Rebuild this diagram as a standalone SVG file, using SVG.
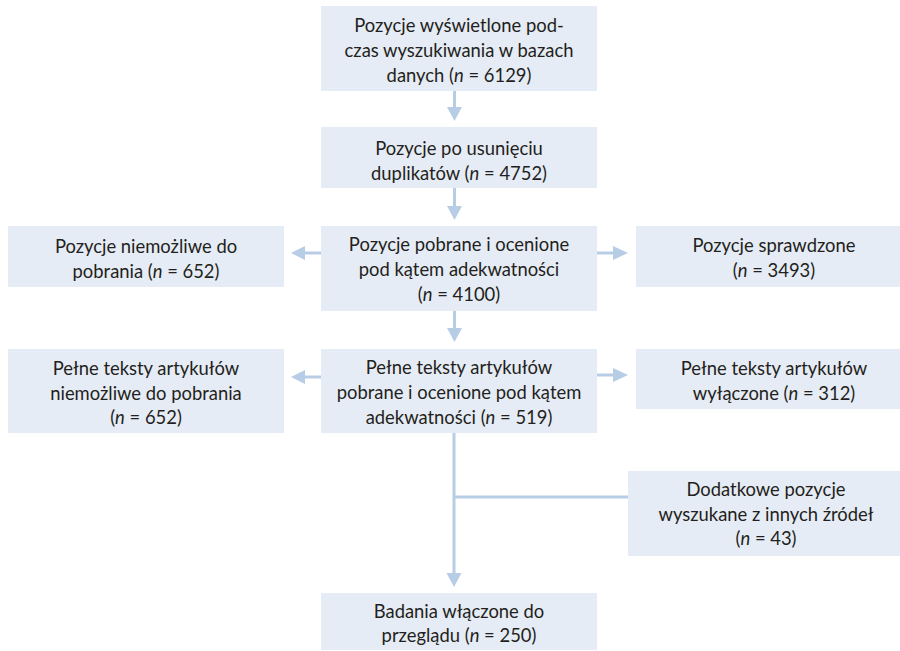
<svg xmlns="http://www.w3.org/2000/svg" width="900" height="651" viewBox="0 0 900 651">
<defs>
<style>
.box{fill:#e6ecf5;}
.t{font-family:Lato,"Open Sans","Liberation Sans",sans-serif;font-size:18.4px;fill:#231f20;text-anchor:middle;}
.c{stroke:#b7cde5;stroke-width:3;fill:none;}
.h{fill:#b7cde5;}
</style>
</defs>
<rect width="900" height="651" fill="#ffffff"/>
<g id="connectors">
<line class="c" x1="454.5" y1="91" x2="454.5" y2="108"/>
<polygon class="h" points="447,107 462,107 454.5,121"/>
<line class="c" x1="454.5" y1="188" x2="454.5" y2="207"/>
<polygon class="h" points="447,206 462,206 454.5,220"/>
<line class="c" x1="454.5" y1="311" x2="454.5" y2="329"/>
<polygon class="h" points="447,328 462,328 454.5,342"/>
<line class="c" x1="321" y1="253" x2="304" y2="253"/>
<polygon class="h" points="305,246 305,260 291,253"/>
<line class="c" x1="597" y1="253" x2="614" y2="253"/>
<polygon class="h" points="613,246 613,260 628,253"/>
<line class="c" x1="321" y1="377" x2="304" y2="377"/>
<polygon class="h" points="305,370 305,384 291,377"/>
<line class="c" x1="597" y1="375" x2="614" y2="375"/>
<polygon class="h" points="613,368 613,382 628,375"/>
<line class="c" x1="454" y1="433" x2="454" y2="574"/>
<line class="c" x1="454" y1="497" x2="628" y2="497"/>
<polygon class="h" points="446.5,573 461.5,573 454,587"/>
</g>
<g id="n1">
<rect class="box" x="321" y="6" width="276" height="85"/>
<text class="t" x="459" y="32">Pozycje wyświetlone pod-</text>
<text class="t" x="459" y="57">czas wyszukiwania w bazach</text>
<text class="t" x="459" y="82">danych (<tspan font-style="italic">n</tspan> = 6129)</text>
</g>
<g id="n2">
<rect class="box" x="321" y="127" width="276" height="61"/>
<text class="t" x="459" y="155">Pozycje po usunięciu</text>
<text class="t" x="459" y="180">duplikatów (<tspan font-style="italic">n</tspan> = 4752)</text>
</g>
<g id="n3">
<rect class="box" x="321" y="226" width="276" height="85"/>
<text class="t" x="459" y="251">Pozycje pobrane i ocenione</text>
<text class="t" x="459" y="276">pod kątem adekwatności</text>
<text class="t" x="459" y="301">(<tspan font-style="italic">n</tspan> = 4100)</text>
</g>
<g id="n3l">
<rect class="box" x="8" y="226" width="276" height="61"/>
<text class="t" x="146" y="253">Pozycje niemożliwe do</text>
<text class="t" x="146" y="278">pobrania (<tspan font-style="italic">n</tspan> = 652)</text>
</g>
<g id="n3r">
<rect class="box" x="636" y="226" width="276" height="61"/>
<text class="t" x="774" y="252">Pozycje sprawdzone</text>
<text class="t" x="774" y="277">(<tspan font-style="italic">n</tspan> = 3493)</text>
</g>
<g id="n4">
<rect class="box" x="321" y="349" width="276" height="84"/>
<text class="t" x="459" y="374">Pełne teksty artykułów</text>
<text class="t" x="459" y="399">pobrane i ocenione pod kątem</text>
<text class="t" x="459" y="424">adekwatności (<tspan font-style="italic">n</tspan> = 519)</text>
</g>
<g id="n4l">
<rect class="box" x="8" y="349" width="276" height="84"/>
<text class="t" x="146" y="375">Pełne teksty artykułów</text>
<text class="t" x="146" y="400">niemożliwe do pobrania</text>
<text class="t" x="146" y="424">(<tspan font-style="italic">n</tspan> = 652)</text>
</g>
<g id="n4r">
<rect class="box" x="636" y="349" width="276" height="60"/>
<text class="t" x="774" y="375">Pełne teksty artykułów</text>
<text class="t" x="774" y="400">wyłączone (<tspan font-style="italic">n</tspan> = 312)</text>
</g>
<g id="n5">
<rect class="box" x="628" y="471" width="276" height="85"/>
<text class="t" x="766" y="496">Dodatkowe pozycje</text>
<text class="t" x="766" y="521">wyszukane z innych źródeł</text>
<text class="t" x="766" y="545">(<tspan font-style="italic">n</tspan> = 43)</text>
</g>
<g id="n6">
<rect class="box" x="321" y="593" width="276" height="57"/>
<text class="t" x="459" y="618">Badania włączone do</text>
<text class="t" x="459" y="642">przeglądu (<tspan font-style="italic">n</tspan> = 250)</text>
</g>
</svg>
